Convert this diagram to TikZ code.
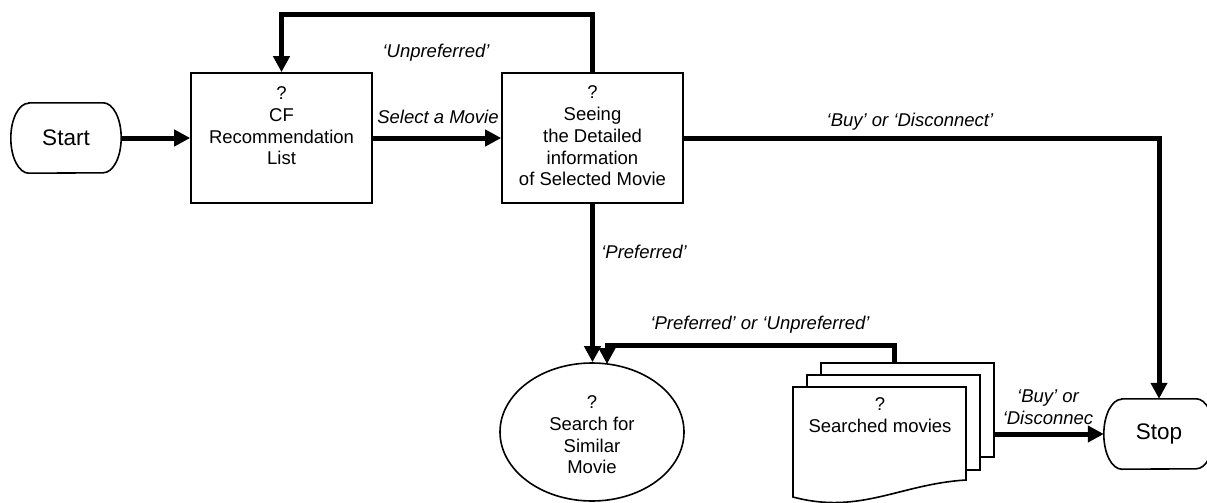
\documentclass[tikz,border=0pt]{standalone}
\usepackage{fontspec}
\setmainfont{Liberation Sans}
\usetikzlibrary{arrows.meta,shapes.geometric}
\begin{document}
\begin{tikzpicture}[x=1pt,y=-1pt,
  font=\fontsize{18.5}{21.7}\selectfont,
  proc/.style={draw, line width=1.6pt, fill=white, inner sep=0pt},
  term/.style={rectangle, minimum width=110pt, minimum height=70pt, inner sep=0pt,
    font=\fontsize{22.5}{26}\selectfont},
  termline/.style={line width=1.6pt},
  txt/.style={align=center, inner sep=0pt},
  lbl/.style={font=\fontsize{18.5}{21.7}\selectfont\itshape, align=center, inner sep=0pt},
  flow/.style={line width=5pt, -{Triangle[length=16pt,width=16pt]}},
  ]
\useasboundingbox (0,0) rectangle (1207,503);
\clip (0,0) rectangle (1207,503);

% terminals
\node[term] (start) at (66,138) {Start};
\draw[termline] ([xshift=18pt]start.north west) -- ([xshift=-18pt]start.north east)
  arc[start angle=90, end angle=-90, x radius=18pt, y radius=35pt]
  -- ([xshift=18pt]start.south west)
  arc[start angle=270, end angle=90, x radius=18pt, y radius=35pt] -- cycle;
\node[term] (stop) at (1159,434) {Stop};
\draw[termline] ([xshift=18pt]stop.north west) -- ([xshift=-18pt]stop.north east)
  arc[start angle=90, end angle=-90, x radius=18pt, y radius=35pt]
  -- ([xshift=18pt]stop.south west)
  arc[start angle=270, end angle=90, x radius=18pt, y radius=35pt] -- cycle;

% process boxes
\node[proc, minimum width=181pt, minimum height=130pt] (cf) at (281.5,138) {};
\node[txt] (cftext) at (281.5,126) {?\\CF\\Recommendation\\List};
\node[proc, minimum width=181pt, minimum height=130pt] (detail) at (592.5,138) {};
\node[txt] (dtext) at (592.5,136) {?\\Seeing\\the Detailed\\information\\of Selected Movie};
\node[draw, ellipse, line width=1.6pt, minimum width=184pt, minimum height=138pt, inner sep=0pt] (search) at (592,432) {};
\node[txt] (stext) at (592,435) {?\\Search for\\Similar\\Movie};

% document stack
\node[proc, minimum width=173pt, minimum height=94pt] (back) at (907.5,410) {};
\node[proc, minimum width=173pt, minimum height=95pt] (middle) at (893.5,422.5) {};
\draw[line width=1.6pt, fill=white] (793,387) -- (966,387) -- (966,480)
  .. controls (900,484) and (860,515) .. (793,497) -- cycle;
\node[txt] (docs) at (880,415) {?\\Searched movies};

% connectors
\coordinate (bk) at (894,363);
\coordinate (sin) at (607,364);
\draw[flow] (start) -- (cf);
\draw[flow] (cf) -- (detail);
\draw[flow] (detail.north) -- (detail.north |- 0,15) -| (cf.north);
\draw[flow] (detail.east) -| (stop.north);
\draw[flow] (detail.south) -- (detail.south |- search.north);
\draw[flow] (bk) |- (sin |- 0,345) -- (sin);
\draw[flow] (back.east |- stop.west) -- (stop.west);

% labels
\node[lbl] (l1) at (436,53) {‘Unpreferred’};
\node[lbl] (l2) at (438,117) {Select a Movie};
\node[lbl] (l3) at (910,122) {‘Buy’ or ‘Disconnect’};
\node[lbl] (l4) at (644,252) {‘Preferred’};
\node[lbl] (l5) at (760,325) {‘Preferred’ or ‘Unpreferred’};
\node[lbl] (l6) at (1048,407) {‘Buy’ or\\‘Disconnec};
\end{tikzpicture}
\end{document}
